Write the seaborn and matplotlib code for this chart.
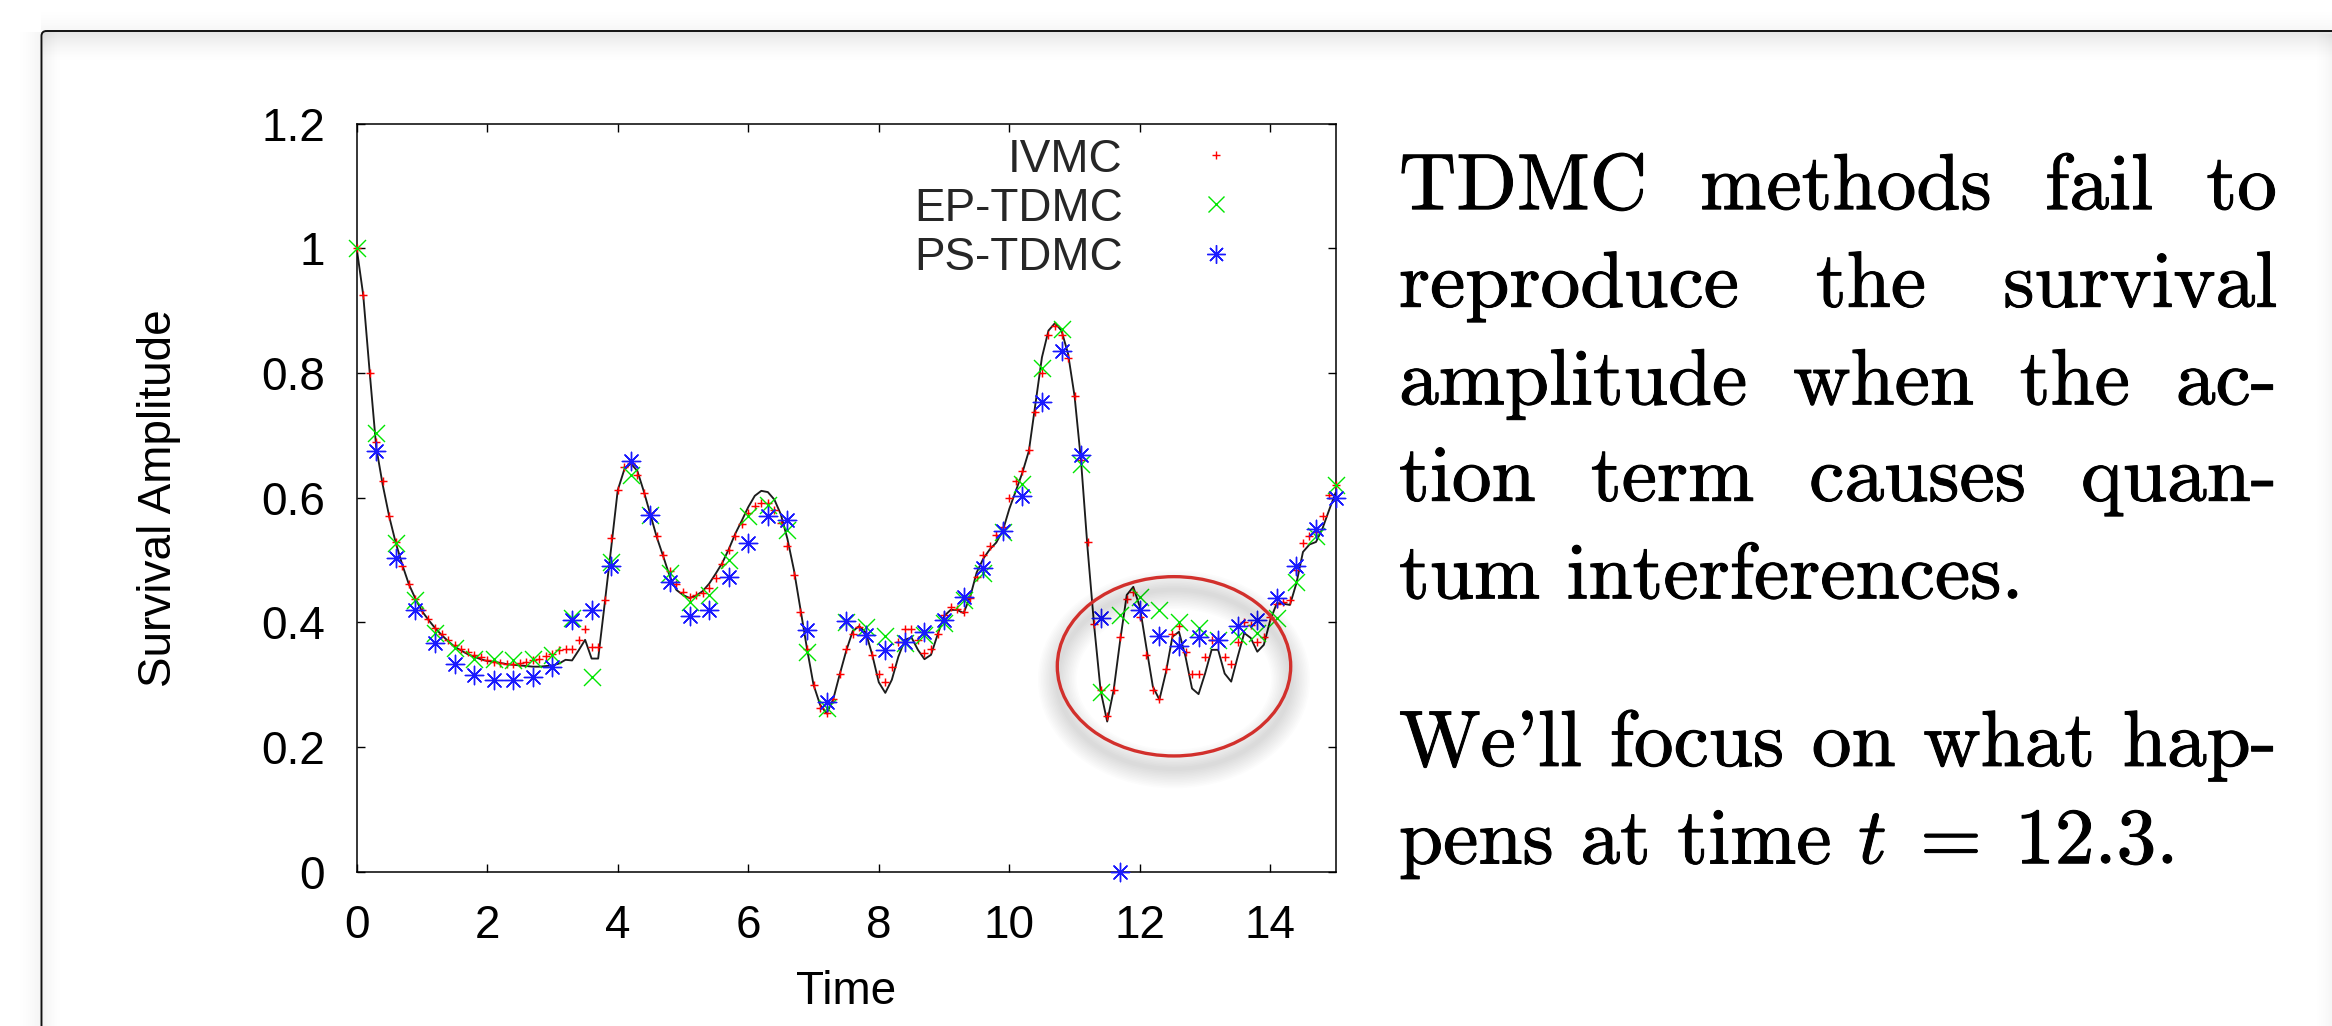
import numpy as np
import pandas as pd
import matplotlib
matplotlib.use("Agg")
import matplotlib.pyplot as plt
import matplotlib.patheffects as pe
import seaborn as sns
from matplotlib.patches import Ellipse, FancyBboxPatch
from matplotlib.lines import Line2D

# ---------------- data ----------------
t_fine = [
    0.0, 0.1, 0.2, 0.3, 0.4, 0.5, 0.6, 0.7, 0.8, 0.9,
    1.0, 1.1, 1.2, 1.3, 1.4, 1.5, 1.6, 1.7, 1.8, 1.9,
    2.0, 2.1, 2.2, 2.3, 2.4, 2.5, 2.6, 2.7, 2.8, 2.9,
    3.0, 3.1, 3.2, 3.3, 3.4, 3.5, 3.6, 3.7, 3.8, 3.9,
    4.0, 4.1, 4.2, 4.3, 4.4, 4.5, 4.6, 4.7, 4.8, 4.9,
    5.0, 5.1, 5.2, 5.3, 5.4, 5.5, 5.6, 5.7, 5.8, 5.9,
    6.0, 6.1, 6.2, 6.3, 6.4, 6.5, 6.6, 6.7, 6.8, 6.9,
    7.0, 7.1, 7.2, 7.3, 7.4, 7.5, 7.6, 7.7, 7.8, 7.9,
    8.0, 8.1, 8.2, 8.3, 8.4, 8.5, 8.6, 8.7, 8.8, 8.9,
    9.0, 9.1, 9.2, 9.3, 9.4, 9.5, 9.6, 9.7, 9.8, 9.9,
    10.0, 10.1, 10.2, 10.3, 10.4, 10.5, 10.6, 10.7, 10.8, 10.9,
    11.0, 11.1, 11.2, 11.3, 11.4, 11.5, 11.6, 11.7, 11.8, 11.9,
    12.0, 12.1, 12.2, 12.3, 12.4, 12.5, 12.6, 12.7, 12.8, 12.9,
    13.0, 13.1, 13.2, 13.3, 13.4, 13.5, 13.6, 13.7, 13.8, 13.9,
    14.0, 14.1, 14.2, 14.3, 14.4, 14.5, 14.6, 14.7, 14.8, 14.9,
    15.0,
]

# reference (black) curve
exact = [
    1.000, 0.925, 0.800, 0.680, 0.620, 0.569, 0.527, 0.492, 0.461, 0.438,
    0.418, 0.404, 0.391, 0.380, 0.370, 0.361, 0.355, 0.349, 0.345, 0.341,
    0.338, 0.337, 0.335, 0.333, 0.332, 0.331, 0.330, 0.329, 0.329, 0.330,
    0.331, 0.334, 0.340, 0.339, 0.355, 0.372, 0.342, 0.342, 0.430, 0.520,
    0.612, 0.645, 0.655, 0.643, 0.610, 0.573, 0.536, 0.505, 0.473, 0.452,
    0.444, 0.439, 0.443, 0.450, 0.462, 0.478, 0.495, 0.517, 0.542, 0.563,
    0.585, 0.603, 0.611, 0.609, 0.597, 0.573, 0.534, 0.484, 0.421, 0.358,
    0.300, 0.268, 0.254, 0.276, 0.316, 0.354, 0.386, 0.394, 0.384, 0.348,
    0.304, 0.287, 0.308, 0.345, 0.372, 0.376, 0.356, 0.341, 0.348, 0.380,
    0.410, 0.420, 0.420, 0.415, 0.441, 0.480, 0.502, 0.517, 0.528, 0.547,
    0.582, 0.611, 0.640, 0.675, 0.750, 0.825, 0.868, 0.880, 0.868, 0.831,
    0.763, 0.658, 0.518, 0.395, 0.290, 0.241, 0.292, 0.372, 0.444, 0.457,
    0.425, 0.360, 0.297, 0.276, 0.320, 0.377, 0.385, 0.345, 0.294, 0.285,
    0.318, 0.356, 0.356, 0.318, 0.305, 0.345, 0.383, 0.375, 0.353, 0.364,
    0.404, 0.431, 0.430, 0.428, 0.463, 0.513, 0.525, 0.529, 0.551, 0.580,
    0.608,
]

# IVMC (red +)
ivmc = [
    1.000, 0.925, 0.800, 0.690, 0.626, 0.571, 0.529, 0.491, 0.462, 0.438,
    0.420, 0.405, 0.391, 0.381, 0.372, 0.364, 0.358, 0.353, 0.348, 0.344,
    0.340, 0.337, 0.335, 0.334, 0.333, 0.335, 0.337, 0.339, 0.342, 0.346,
    0.349, 0.355, 0.358, 0.357, 0.372, 0.389, 0.361, 0.361, 0.436, 0.535,
    0.612, 0.649, 0.655, 0.636, 0.607, 0.575, 0.539, 0.508, 0.483, 0.462,
    0.448, 0.441, 0.444, 0.447, 0.455, 0.472, 0.494, 0.516, 0.539, 0.558,
    0.575, 0.587, 0.592, 0.591, 0.581, 0.559, 0.523, 0.476, 0.417, 0.358,
    0.300, 0.262, 0.254, 0.277, 0.318, 0.358, 0.382, 0.392, 0.380, 0.347,
    0.318, 0.305, 0.329, 0.369, 0.390, 0.389, 0.372, 0.351, 0.357, 0.382,
    0.412, 0.425, 0.421, 0.417, 0.439, 0.473, 0.508, 0.523, 0.540, 0.553,
    0.599, 0.626, 0.643, 0.676, 0.738, 0.800, 0.861, 0.876, 0.861, 0.824,
    0.763, 0.660, 0.529, 0.397, 0.292, 0.250, 0.292, 0.376, 0.437, 0.448,
    0.409, 0.348, 0.291, 0.277, 0.325, 0.382, 0.394, 0.353, 0.317, 0.317,
    0.344, 0.372, 0.372, 0.345, 0.334, 0.369, 0.401, 0.396, 0.368, 0.377,
    0.409, 0.430, 0.433, 0.436, 0.484, 0.527, 0.538, 0.545, 0.570, 0.605,
    0.620,
]

t_ep = [
    0.0, 0.3, 0.6, 0.9, 1.2, 1.5, 1.8, 2.1, 2.4, 2.7,
    3.0, 3.3, 3.6, 3.9, 4.2, 4.5, 4.8, 5.1, 5.4, 5.7,
    6.0, 6.3, 6.6, 6.9, 7.2, 7.5, 7.8, 8.1, 8.4, 8.7,
    9.0, 9.3, 9.6, 9.9, 10.2, 10.5, 10.8, 11.1, 11.4, 11.7,
    12.0, 12.3, 12.6, 12.9, 13.2, 13.5, 13.8, 14.1, 14.4, 14.7,
    15.0,
]
ep_tdmc = [
    1.000, 0.704, 0.528, 0.436, 0.383, 0.359, 0.342, 0.341, 0.340, 0.341,
    0.348, 0.407, 0.313, 0.497, 0.636, 0.572, 0.480, 0.432, 0.444, 0.500,
    0.570, 0.588, 0.548, 0.353, 0.262, 0.400, 0.393, 0.378, 0.367, 0.380,
    0.399, 0.436, 0.479, 0.545, 0.622, 0.808, 0.870, 0.654, 0.289, 0.412,
    0.441, 0.420, 0.400, 0.391, 0.371, 0.378, 0.383, 0.407, 0.465, 0.538,
    0.620,
]

t_ps = [
    0.3, 0.6, 0.9, 1.2, 1.5, 1.8, 2.1, 2.4, 2.7,
    3.0, 3.3, 3.6, 3.9, 4.2, 4.5, 4.8, 5.1, 5.4, 5.7,
    6.0, 6.3, 6.6, 6.9, 7.2, 7.5, 7.8, 8.1, 8.4, 8.7,
    9.0, 9.3, 9.6, 9.9, 10.2, 10.5, 10.8, 11.1, 11.4, 11.7,
    12.0, 12.3, 12.6, 12.9, 13.2, 13.5, 13.8, 14.1, 14.4, 14.7,
    15.0,
]
ps_tdmc = [
    0.675, 0.503, 0.420, 0.367, 0.334, 0.316, 0.308, 0.307, 0.313,
    0.329, 0.404, 0.420, 0.491, 0.659, 0.572, 0.465, 0.410, 0.420, 0.473,
    0.528, 0.570, 0.564, 0.388, 0.273, 0.403, 0.380, 0.356, 0.368, 0.384,
    0.404, 0.441, 0.488, 0.546, 0.602, 0.754, 0.835, 0.668, 0.407, 0.000,
    0.420, 0.378, 0.362, 0.376, 0.371, 0.394, 0.404, 0.439, 0.491, 0.549,
    0.600,
]

series_labels = ["IVMC", "EP-TDMC", "PS-TDMC"]
x_ticks = [0, 2, 4, 6, 8, 10, 12, 14]
x_tick_labels = ["0", "2", "4", "6", "8", "10", "12", "14"]
y_ticks = [0.0, 0.2, 0.4, 0.6, 0.8, 1.0, 1.2]
y_tick_labels = ["0", "0.2", "0.4", "0.6", "0.8", "1", "1.2"]
x_label = "Time"
y_label = "Survival Amplitude"

para1 = [
    ["TDMC", "methods", "fail", "to"],
    ["reproduce", "the", "survival"],
    ["amplitude", "when", "the", "ac-"],
    ["tion", "term", "causes", "quan-"],
    ["tum", "interferences."],
]
para2 = [
    ["We'll", "focus", "on", "what", "hap-"],
    ["pens", "at", "time", r"$t\;=\;12.3$."],
]

# ---------------- style ----------------
sns.set_style("ticks")
plt.rcParams["font.family"] = ["Liberation Sans", "DejaVu Sans"]
plt.rcParams["mathtext.fontset"] = "cm"

RED = "#ff0000"
GREEN = "#00e600"
BLUE = "#1a1aff"

W, H, DPI = 2332, 1026, 100
fig = plt.figure(figsize=(W / DPI, H / DPI), dpi=DPI, facecolor="white")

# background (slide) layer in pixel coordinates
bg = fig.add_axes([0, 0, 1, 1], zorder=-10)
bg.set_facecolor("white")


def shade(ax, x0, x1, y0, y1, a0, a1, vertical=True, n=64):
    s = np.linspace(0.0, 1.0, n)
    a = a0 + (a1 - a0) * s ** 1.6 if a1 > a0 else a1 + (a0 - a1) * (1 - s) ** 1.6
    if vertical:
        img = np.zeros((n, 2, 4))
        img[..., 3] = a[:, None]
    else:
        img = np.zeros((2, n, 4))
        img[..., 3] = a[None, :]
    ax.imshow(img, extent=(x0, x1, y1, y0), aspect="auto",
              interpolation="bilinear", zorder=1)


shade(bg, 43, W, 32, 64, 0.10, 0.0, vertical=True)       # inner top shadow
shade(bg, 43, 64, 32, H, 0.05, 0.0, vertical=False)      # inner left shadow
shade(bg, 14, 41, 32, H, 0.0, 0.045, vertical=False)     # outer left shadow
shade(bg, 41, W, 6, 30, 0.0, 0.035, vertical=True)       # outer top shadow
shade(bg, 2312, W, 34, H, 0.0, 0.04, vertical=False)     # right edge shade
bg.add_patch(FancyBboxPatch((41.5, 31.0), W + 50, H + 50,
                            boxstyle="round,pad=0,rounding_size=5",
                            fill=False, edgecolor="#111111", lw=1.4, zorder=3))
bg.set_xlim(0, W)
bg.set_ylim(H, 0)
bg.axis("off")

# ---------------- chart ----------------
L, R, T, B = 356.7, 1335.6, 123.6, 871.8
ax = fig.add_axes([L / W, 1 - B / H, (R - L) / W, (B - T) / H])
ax.set_facecolor("none")

df_exact = pd.DataFrame({"Time": t_fine, "Amplitude": exact})
df_ivmc = pd.DataFrame({"Time": t_fine, "Amplitude": ivmc})
df_ep = pd.DataFrame({"Time": t_ep, "Amplitude": ep_tdmc})
df_ps = pd.DataFrame({"Time": t_ps, "Amplitude": ps_tdmc})

sns.lineplot(data=df_exact, x="Time", y="Amplitude", ax=ax, color="#1c1c1c",
             lw=1.35, sort=False, estimator=None, zorder=2)
sns.scatterplot(data=df_ivmc, x="Time", y="Amplitude", ax=ax, marker="+",
                color=RED, s=28, linewidth=1.05, zorder=3, clip_on=False)
sns.scatterplot(data=df_ep, x="Time", y="Amplitude", ax=ax, marker="x",
                color=GREEN, s=150, linewidth=1.0, zorder=4, clip_on=False)
sns.scatterplot(data=df_ps, x="Time", y="Amplitude", ax=ax, marker=(8, 2, 0),
                color=BLUE, s=175, linewidth=1.0, zorder=5, clip_on=False)

ax.set_xlim(0, 15)
ax.set_ylim(0, 1.2)
ax.set_xticks(x_ticks, labels=x_tick_labels)
ax.set_yticks(y_ticks, labels=y_tick_labels)
ax.tick_params(axis="both", which="both", direction="in", length=5.8, width=1.0,
               top=True, right=True, labelsize=33, pad=23, colors="black")
for sp in ax.spines.values():
    sp.set_visible(True)
    sp.set_color("black")
    sp.set_linewidth(1.1)

ax.set_xlabel(x_label, fontsize=33, color="black")
ax.set_ylabel(y_label, fontsize=33, color="black")
ax.xaxis.set_label_coords(0.5, -0.131)
ax.yaxis.set_label_coords(-0.179, 0.5)

handles = [
    Line2D([], [], ls="none", marker="+", color=RED, markersize=5.2, mew=1.0),
    Line2D([], [], ls="none", marker="x", color=GREEN, markersize=12.2, mew=1.0),
    Line2D([], [], ls="none", marker=(8, 2, 0), color=BLUE, markersize=13.2, mew=1.0),
]
ax.legend(handles, series_labels, loc="upper right",
          bbox_to_anchor=((1261.8 - L) / (R - L), (B - 137.5) / (B - T)),
          bbox_transform=ax.transAxes, markerfirst=False, frameon=False,
          fontsize=33, handlelength=2.0, handletextpad=1.03, labelspacing=0.11,
          borderpad=0, borderaxespad=0, numpoints=1)

# ---------------- overlay: highlight ellipse ----------------
ov = fig.add_axes([0, 0, 1, 1], zorder=20)
ov.set_xlim(0, W)
ov.set_ylim(H, 0)
ov.axis("off")
ov.patch.set_alpha(0)
cx, cy, ew, eh = 1174.0, 666.3, 233.4, 179.3
for lw_s in np.linspace(28, 3, 12):
    ov.add_patch(Ellipse((cx, cy + 13), ew, eh, fill=False,
                         edgecolor=(0, 0, 0, 0.011), lw=lw_s))
ov.add_patch(Ellipse((cx, cy), ew, eh, fill=False, edgecolor="#d2302c", lw=2.4))

# ---------------- slide text ----------------
FS = 57.2
X0, X1 = 1399.0, 2277.0
SPACE = 0.333 * FS * DPI / 72.0
renderer = fig.canvas.get_renderer()
heavier = [pe.withStroke(linewidth=0.7, foreground="black")]


def place_line(words, y, justify):
    texts = [bg.text(0, y, w, fontfamily="cmr10", fontsize=FS, va="baseline",
                     ha="left", color="black", zorder=5, path_effects=heavier)
             for w in words]
    widths = [t.get_window_extent(renderer).width for t in texts]
    if justify and len(words) > 1:
        gap = (X1 - X0 - sum(widths)) / (len(words) - 1)
    else:
        gap = SPACE
    x = X0
    for t, w in zip(texts, widths):
        t.set_x(x)
        x += w + gap


base1 = [209.1, 306.7, 404.3, 500.7, 598.3]
base2 = [765.9, 863.5]
for i, (words, y) in enumerate(zip(para1, base1)):
    place_line(words, y, justify=(i < len(para1) - 1))
for i, (words, y) in enumerate(zip(para2, base2)):
    place_line(words, y, justify=(i < len(para2) - 1))

fig.savefig("out.png", dpi=DPI, facecolor="white")
